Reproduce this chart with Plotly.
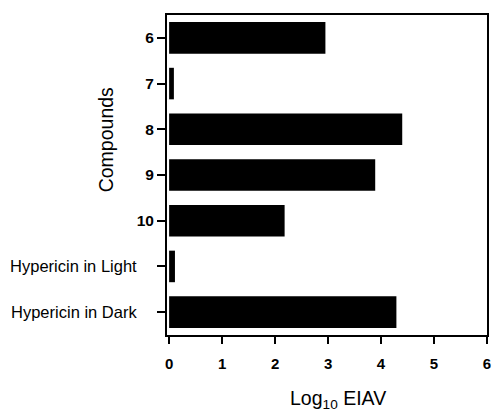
import plotly.graph_objects as go

# Compounds tested and their log10 EIAV values
compounds = ["6", "7", "8", "9", "10", "Hypericin in Light", "Hypericin in Dark"]
log10_eiav = [2.95, 0.09, 4.40, 3.89, 2.18, 0.11, 4.29]
x_ticks = [0, 1, 2, 3, 4, 5, 6]

# numeric compound ids bold, text labels plain with a little padding
tick_text = []
for c in compounds:
    if c.isdigit():
        tick_text.append(f"<b>{c}</b>")
    else:
        tick_text.append(f"<span style='font-size:16.5px'>{c}</span>&nbsp;&nbsp;&nbsp;&nbsp;")

fig = go.Figure(
    go.Bar(
        x=log10_eiav,
        y=compounds,
        orientation="h",
        width=0.69,
        marker=dict(color="black", line=dict(width=0)),
        showlegend=False,
    )
)

fig.update_layout(
    width=496,
    height=412,
    margin=dict(l=167, r=5, t=15, b=77),
    paper_bgcolor="white",
    plot_bgcolor="white",
    font=dict(family="Liberation Sans, Arial, sans-serif", color="black", size=15),
)

fig.update_xaxes(
    range=[-0.04, 6.0],
    tickvals=x_ticks,
    ticktext=[f"<b>{v}</b>" for v in x_ticks],
    ticks="outside",
    ticklen=7,
    tickwidth=1.5,
    tickcolor="black",
    ticklabelstandoff=7,
    showline=True,
    linecolor="black",
    linewidth=2,
    mirror=True,
    showgrid=False,
    zeroline=False,
    tickfont=dict(size=15),
)

fig.update_yaxes(
    categoryorder="array",
    categoryarray=compounds,
    autorange="reversed",
    tickvals=compounds,
    ticktext=tick_text,
    ticks="outside",
    ticklen=8,
    tickwidth=1.5,
    tickcolor="black",
    showline=True,
    linecolor="black",
    linewidth=2,
    mirror=True,
    showgrid=False,
    zeroline=False,
    tickfont=dict(size=15.5),
)

fig.add_annotation(
    text="Compounds",
    xref="paper", yref="paper",
    x=-0.19, y=0.609,
    textangle=-90,
    showarrow=False,
    font=dict(size=19.5),
    xanchor="center", yanchor="middle",
)

fig.add_annotation(
    text="Log<sub>10</sub> EIAV",
    xref="paper", yref="paper",
    x=0.535, y=-0.2,
    showarrow=False,
    font=dict(size=19.5),
    xanchor="center", yanchor="middle",
)

fig.write_html("out.html")
